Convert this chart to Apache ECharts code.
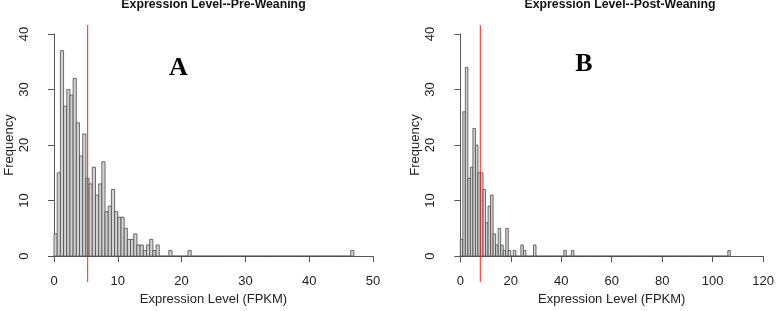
<!DOCTYPE html>
<html>
<head>
<meta charset="utf-8">
<script src="https://cdn.jsdelivr.net/npm/echarts@6/dist/echarts.min.js"></script>
<style>html,body{margin:0;padding:0;background:#fff;}#c{width:777px;height:311px;}</style>
</head>
<body>
<div id="c"></div>
<script>
// ---- Data ----
const titleA = 'Expression Level--Pre-Weaning';
const titleB = 'Expression Level--Post-Weaning';
const xName = 'Expression Level (FPKM)';
const yName = 'Frequency';

// Panel A: bins of width 0.5 starting at 0
const binWidthA = 0.5;
const countsA = [4,15,37,27,30,29,32,24,18,22,14,13,16,11,13,17,8,9,12,8,7,7,5,3,3,4,2,2,1,2,3,1,2];
const tailA = [[18,1],[21,1],[46.5,1]];   // [bin start, count]
const lastEdgeA = 47;
const meanA = 5.28;
const xTicksA = [0,10,20,30,40,50];

// Panel B: bins of width 1 starting at 0
const binWidthB = 1;
const countsB = [3,26,34,14,16,23,20,15,15,12,6,9,11,4,2,5,2,1,5,1,0,1,0,0,2,1,0,0,0,2];
const tailB = [[41,1],[44,1],[106,1]];
const lastEdgeB = 107;
const meanB = 7.84;
const xTicksB = [0,20,40,60,80,100,120];

const yTicks = [0,10,20,30,40];

// ---- Build bins ----
function buildBins(width, head, tail, lastEdge) {
  const n = Math.round(lastEdge / width);
  const out = [];
  for (let i = 0; i < n; i++) {
    const s = i * width;
    let c = i < head.length ? head[i] : 0;
    for (const t of tail) if (Math.abs(t[0] - s) < 1e-9) c = t[1];
    out.push([s, s + width, c]);
  }
  return out;
}
const binsA = buildBins(binWidthA, countsA, tailA, lastEdgeA);
const binsB = buildBins(binWidthB, countsB, tailB, lastEdgeB);

function renderItem(params, api) {
  const p0 = api.coord([api.value(0), api.value(2)]);
  const p1 = api.coord([api.value(1), 0]);
  return {
    type: 'rect',
    shape: {x: p0[0], y: p0[1], width: p1[0] - p0[0], height: p1[1] - p0[1]},
    style: {fill: '#d3d3d3', stroke: '#4a4a4a', lineWidth: 0.8}
  };
}

const font = 'Liberation Sans, Arial, sans-serif';
const axisColor = '#555';
const txtColor = '#222';

function xAxisCfg(gridIndex, max, interval) {
  return {
    type: 'value', gridIndex, min: 0, max, interval,
    offset: 9,
    name: xName, nameLocation: 'middle', nameGap: 27,
    nameTextStyle: {fontFamily: font, fontSize: 13, color: txtColor},
    axisLine: {show: true, lineStyle: {color: axisColor, width: 1}},
    axisTick: {show: true, length: 6, lineStyle: {color: axisColor}},
    axisLabel: {fontFamily: font, fontSize: 13, color: txtColor, margin: 10},
    splitLine: {show: false}
  };
}
function yAxisCfg(gridIndex) {
  return {
    type: 'value', gridIndex, min: 0, max: 40, interval: 10,
    offset: 13,
    name: yName, nameLocation: 'middle', nameGap: 25, nameRotate: 90,
    nameTextStyle: {fontFamily: font, fontSize: 13, color: txtColor},
    axisLine: {show: true, lineStyle: {color: axisColor, width: 1}},
    axisTick: {show: true, length: 6, lineStyle: {color: axisColor}},
    axisLabel: {fontFamily: font, fontSize: 13, color: txtColor, rotate: 90, margin: 10},
    splitLine: {show: false}
  };
}
function hiddenX(gridIndex, max) {
  return {type: 'value', gridIndex, min: 0, max, show: false};
}
function hiddenY(gridIndex) {
  return {type: 'value', gridIndex, min: 0, max: 1, show: false};
}

const chart = echarts.init(document.getElementById('c'), null, {renderer: 'canvas'});
chart.setOption({
  animation: false,
  backgroundColor: '#fff',
  grid: [
    {left: 54, top: 34, width: 319, height: 226},
    {left: 460.3, top: 34, width: 306, height: 226},
    {left: 54, top: 25, width: 319, height: 257},
    {left: 460.3, top: 25, width: 306, height: 257}
  ],
  xAxis: [xAxisCfg(0, 50, 10), xAxisCfg(1, 120, 20), hiddenX(2, 50), hiddenX(3, 120)],
  yAxis: [yAxisCfg(0), yAxisCfg(1), hiddenY(2), hiddenY(3)],
  series: [
    {type: 'custom', xAxisIndex: 0, yAxisIndex: 0, renderItem, data: binsA,
     encode: {x: [0, 1], y: 2}, clip: false, silent: true},
    {type: 'custom', xAxisIndex: 1, yAxisIndex: 1, renderItem, data: binsB,
     encode: {x: [0, 1], y: 2}, clip: false, silent: true},
    {type: 'line', xAxisIndex: 2, yAxisIndex: 2, data: [[meanA, 0], [meanA, 1]],
     symbol: 'none', lineStyle: {color: '#ff2020', width: 1}, silent: true},
    {type: 'line', xAxisIndex: 3, yAxisIndex: 3, data: [[meanB, 0], [meanB, 1]],
     symbol: 'none', lineStyle: {color: '#ff2020', width: 1}, silent: true}
  ],
  graphic: [
    {type: 'text', x: 213.5, y: 5, style: {text: titleA, font: 'bold 12.3px ' + font, fill: '#111', align: 'center', verticalAlign: 'middle'}},
    {type: 'text', x: 620, y: 5, style: {text: titleB, font: 'bold 12.3px ' + font, fill: '#111', align: 'center', verticalAlign: 'middle'}},
    {type: 'text', x: 178.5, y: 68.5, style: {text: 'A', font: 'bold 26px "Liberation Serif", "Times New Roman", serif', fill: '#000', align: 'center', verticalAlign: 'middle'}},
    {type: 'text', x: 584, y: 64, style: {text: 'B', font: 'bold 26px "Liberation Serif", "Times New Roman", serif', fill: '#000', align: 'center', verticalAlign: 'middle'}}
  ]
});
</script>
</body>
</html>
